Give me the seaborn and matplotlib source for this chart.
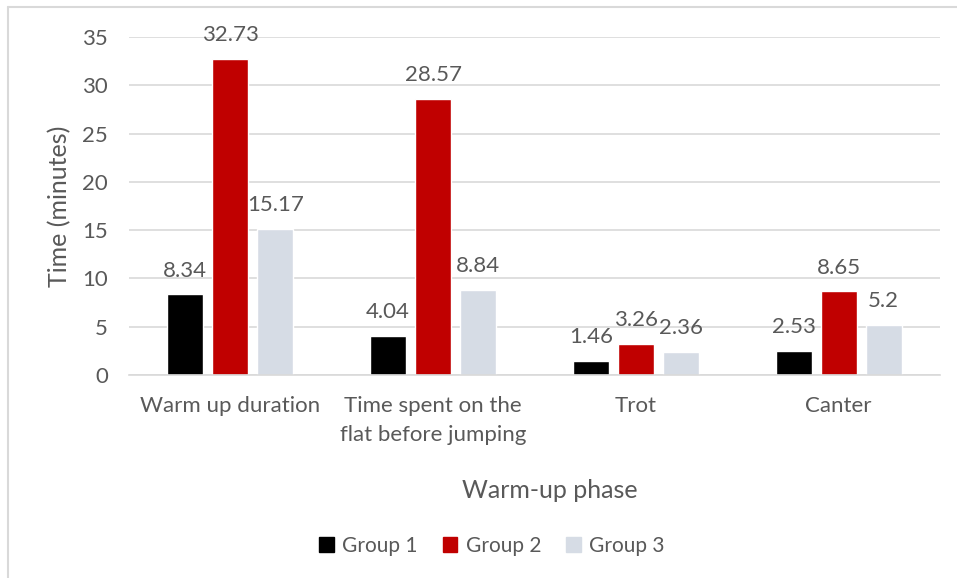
import matplotlib
matplotlib.use("Agg")
import matplotlib.pyplot as plt
import seaborn as sns
import pandas as pd
from matplotlib.lines import Line2D
from matplotlib.patches import Patch

phases = ["Warm up duration", "Time spent on the\nflat before jumping", "Trot", "Canter"]
groups = ["Group 1", "Group 2", "Group 3"]
group1 = [8.34, 4.04, 1.46, 2.53]
group2 = [32.73, 28.57, 3.26, 8.65]
group3 = [15.17, 8.84, 2.36, 5.2]
label_text = {"Group 1": ["8.34", "4.04", "1.46", "2.53"],
              "Group 2": ["32.73", "28.57", "3.26", "8.65"],
              "Group 3": ["15.17", "8.84", "2.36", "5.2"]}
yticks = [0, 5, 10, 15, 20, 25, 30, 35]
colors = ["#000000", "#C00000", "#D6DCE5"]

df = pd.DataFrame({
    "phase": phases * 3,
    "group": [g for g in groups for _ in phases],
    "time": group1 + group2 + group3,
})

sns.set_theme(style="white")
plt.rcParams["font.family"] = ["Lato", "DejaVu Sans"]
text_color = "#595959"

fig = plt.figure(figsize=(9.57, 5.78), dpi=100)
ax = fig.add_axes([129 / 957, 1 - 375 / 578, (940 - 129) / 957, (375 - 37) / 578])

sns.barplot(data=df, x="phase", y="time", hue="group", order=phases,
            hue_order=groups, palette=colors, width=0.667, gap=0.2,
            saturation=1, legend=False, ax=ax, errorbar=None)

for cont, g in zip(ax.containers, groups):
    ax.bar_label(cont, labels=label_text[g], padding=10, fontsize=16, color=text_color)

ax.set_ylim(0, 35)
ax.set_xlim(-0.5, 3.5)
ax.set_yticks(yticks)
ax.yaxis.grid(True, color="#D9D9D9", linewidth=1.2)
ax.set_axisbelow(True)
for s in ["top", "right", "left"]:
    ax.spines[s].set_visible(False)
ax.spines["bottom"].set_color("#D9D9D9")
ax.spines["bottom"].set_linewidth(1.2)
ax.tick_params(axis="both", length=0, labelsize=16, labelcolor=text_color)
ax.tick_params(axis="y", pad=15)
ax.tick_params(axis="x", pad=15)
for lbl in ax.get_xticklabels():
    lbl.set_linespacing(1.6)
ax.set_xlabel("Warm-up phase", fontsize=18, color=text_color, labelpad=24)
ax.xaxis.label.set_x(0.519)
ax.set_ylabel("Time (minutes)", fontsize=18, color=text_color, labelpad=8)

handles = [Patch(facecolor=c, edgecolor=c) for c in colors]
fig.legend(handles, groups, loc="center", bbox_to_anchor=(492 / 957, 1 - 546 / 578),
           ncol=3, frameon=False, fontsize=15, labelcolor=text_color,
           handlelength=0.7, handleheight=0.7, handletextpad=0.4, columnspacing=1.2)

# chart frame lines along the top and left edge
fig.add_artist(Line2D([8 / 957, 1], [1 - 7 / 578, 1 - 7 / 578], color="#D9D9D9", linewidth=1.5))
fig.add_artist(Line2D([8 / 957, 8 / 957], [0, 1 - 7 / 578], color="#D9D9D9", linewidth=1.5))

fig.savefig("out.png", dpi=100, facecolor="white")
